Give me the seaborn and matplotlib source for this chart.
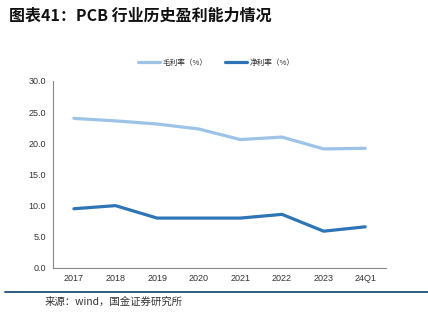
import matplotlib
matplotlib.use("Agg")
import matplotlib.pyplot as plt
import seaborn as sns
import pandas as pd
from matplotlib.lines import Line2D

categories = ["2017", "2018", "2019", "2020", "2021", "2022", "2023", "24Q1"]
gross_margin = [24.0, 23.6, 23.1, 22.3, 20.6, 21.0, 19.1, 19.2]
net_margin = [9.5, 10.0, 8.0, 8.0, 8.0, 8.6, 5.9, 6.6]
series_names = ["毛利率（%）", "净利率（%）"]
y_ticks = [0, 5, 10, 15, 20, 25, 30]

sns.set_style("white")
plt.rcParams['font.family'] = ['Liberation Sans', 'Noto Sans CJK SC', 'DejaVu Sans']

df = pd.DataFrame({
    "x": list(range(len(categories))) * 2,
    "value": gross_margin + net_margin,
    "series": [series_names[0]] * len(categories) + [series_names[1]] * len(categories),
})

colors = ["#9DC3E6", "#2E75B6"]

fig = plt.figure(figsize=(4.28, 3.24), dpi=100)
ax = fig.add_axes([0.124, 0.173, 0.778, 0.577])

sns.lineplot(data=df, x="x", y="value", hue="series", palette=colors,
             linewidth=2.3, ax=ax, legend=False)

ax.set_xlim(-0.5, len(categories) - 0.5)
ax.set_ylim(0, 30)
ax.set_yticks(y_ticks)
ax.set_yticklabels([f"{v:.1f}" for v in y_ticks], fontsize=6.5, color="#333333")
ax.set_xticks(range(len(categories)))
ax.set_xticklabels(categories, fontsize=6.5, color="#333333")
ax.set_xticks([i - 0.5 for i in range(len(categories) + 1)], minor=True)
ax.tick_params(axis="x", which="major", length=0, pad=4)
ax.tick_params(axis="x", which="minor", length=3, width=0.6, color="#888888", direction="out")
ax.tick_params(axis="y", length=3, width=0.6, color="#888888", direction="out", pad=2)
ax.set_xlabel("")
ax.set_ylabel("")
for s in ["top", "right"]:
    ax.spines[s].set_visible(False)
for s in ["left", "bottom"]:
    ax.spines[s].set_color("#888888")
    ax.spines[s].set_linewidth(0.8)

handles = [Line2D([0], [0], color=c, lw=2.3) for c in colors]
fig.legend(handles, series_names, loc="center", bbox_to_anchor=(0.505, 0.806),
           ncol=2, frameon=False, prop={"family": ["Noto Sans CJK SC"], "size": 5.5},
           handlelength=3.0, columnspacing=2.2, handletextpad=0.3)

fig.text(0.022, 0.953, "图表41：PCB 行业历史盈利能力情况", fontsize=11.5, fontweight="bold",
         family=["Noto Sans CJK SC", "DejaVu Sans"], ha="left", va="center", color="#111111")

fig.add_artist(Line2D([0.012, 1.0], [0.099, 0.099], color="#1F4E79", lw=1.3,
                      transform=fig.transFigure))

fig.text(0.105, 0.068, "来源：wind，国金证券研究所", fontsize=7.5,
         family=["Noto Sans CJK SC", "DejaVu Sans"], ha="left", va="center", color="#333333")

fig.savefig("out.png", dpi=100)
